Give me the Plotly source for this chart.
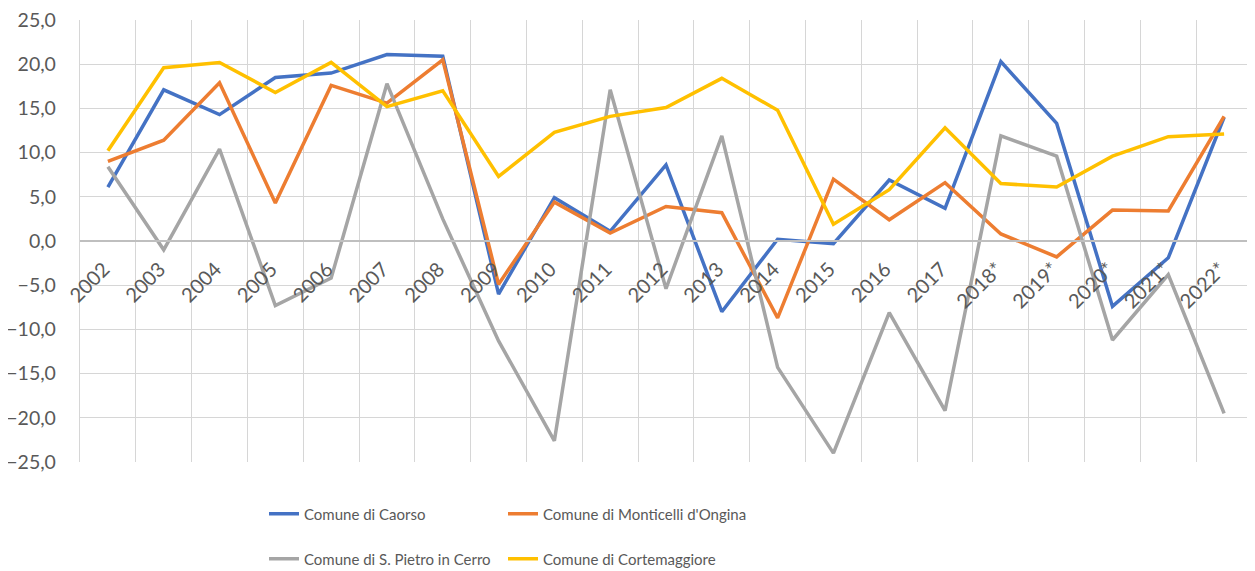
import plotly.graph_objects as go

years = ["2002", "2003", "2004", "2005", "2006", "2007", "2008", "2009", "2010", "2011",
         "2012", "2013", "2014", "2015", "2016", "2017", "2018*", "2019*", "2020*", "2021*", "2022*"]

caorso = [6.1, 17.1, 14.3, 18.5, 19.0, 21.1, 20.9, -6.0, 4.9, 1.1,
          8.6, -8.0, 0.2, -0.3, 6.9, 3.7, 20.3, 13.3, -7.4, -1.9, 14.0]
monticelli = [9.0, 11.4, 17.9, 4.3, 17.6, 15.6, 20.5, -4.9, 4.4, 0.9,
              3.9, 3.2, -8.7, 7.0, 2.4, 6.6, 0.8, -1.8, 3.5, 3.4, 14.1]
spietro = [8.4, -1.0, 10.4, -7.3, -4.2, 17.8, 2.5, -11.3, -22.6, 17.1,
           -5.4, 11.9, -14.3, -24.0, -8.1, -19.2, 11.9, 9.6, -11.2, -3.8, -19.5]
cortemaggiore = [10.2, 19.6, 20.2, 16.8, 20.2, 15.2, 17.0, 7.3, 12.3, 14.1,
                 15.1, 18.4, 14.8, 1.9, 5.8, 12.8, 6.5, 6.1, 9.6, 11.8, 12.1]

series = [
    ("Comune di Caorso", caorso, "#4472C4", "legend"),
    ("Comune di Monticelli d'Ongina", monticelli, "#ED7D31", "legend2"),
    ("Comune di S. Pietro in Cerro", spietro, "#A5A5A5", "legend3"),
    ("Comune di Cortemaggiore", cortemaggiore, "#FFC000", "legend4"),
]

fig = go.Figure()
for name, vals, col, leg in series:
    fig.add_trace(go.Scatter(x=years, y=vals, name=name, mode="lines",
                             line=dict(color=col, width=3.5), legend=leg))

tick_font = dict(family="Lato", size=20, color="#595959")
ytick_font = dict(family="Lato", size=19.5, color="#595959")
leg_font = dict(family="Lato", size=15, color="#595959")
grid = "#D6D6D6"

W, H = 1247, 563  # page body has an 8px margin


def leg(x, y):
    return dict(orientation="h", x=x, y=y, xref="container", yref="container",
                xanchor="left", yanchor="middle", font=leg_font, itemwidth=30,
                bgcolor="rgba(0,0,0,0)")


col1, col2 = 256 / W, 495 / W
row1, row2 = 1 - 506 / H, 1 - 551 / H

fig.update_layout(
    width=W, height=H,
    margin=dict(l=72, r=3, t=12, b=109, autoexpand=False),
    plot_bgcolor="white", paper_bgcolor="white",
    separators=",.",
    showlegend=True,
    legend=leg(col1, row1),
    legend2=leg(col2, row1),
    legend3=leg(col1, row2),
    legend4=leg(col2, row2),
    xaxis=dict(type="category", tickson="boundaries", showgrid=True, gridcolor=grid,
               gridwidth=1.3, anchor="free", position=0.5, showline=True,
               linecolor="#BFBFBF", linewidth=1.5, ticks="", tickangle=-45,
               tickfont=tick_font, range=[-0.5, 20.5], automargin=False,
               ticklabelstandoff=8, ticklabelshift=-4, ticklabeloverflow="allow"),
    yaxis=dict(range=[-25, 25], dtick=5, tick0=0, tickformat=".1f", showgrid=True,
               gridcolor=grid, gridwidth=1.3, zeroline=False, tickfont=ytick_font,
               ticklabelstandoff=19, showline=True, mirror=True, linecolor=grid,
               linewidth=1.3, automargin=False, ticklabeloverflow="allow"),
)

fig.write_html("out.html")
